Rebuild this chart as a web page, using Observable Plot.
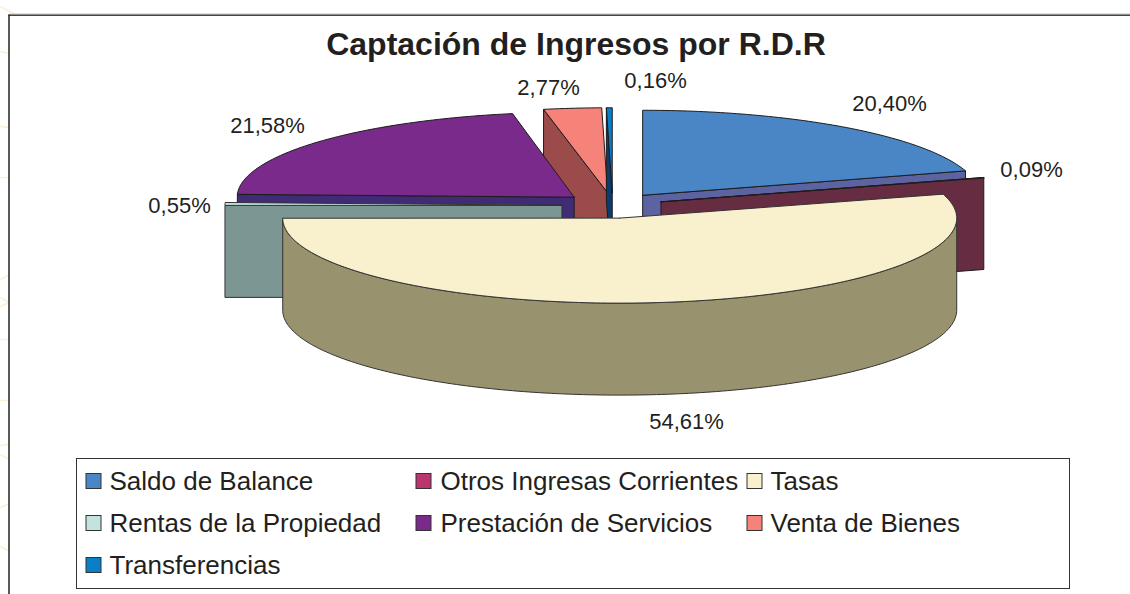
<!DOCTYPE html>
<html><head><meta charset="utf-8">
<script src="https://cdn.jsdelivr.net/npm/d3@7"></script>
<script src="https://cdn.jsdelivr.net/npm/@observablehq/plot@0.6"></script>
<style>html,body{margin:0;padding:0;background:#fff}svg{display:block}</style>
</head><body><div id="chart"></div>
<script>
const categories = ["Saldo de Balance","Otros Ingresas Corrientes","Tasas","Rentas de la Propiedad","Prestación de Servicios","Venta de Bienes","Transferencias"];
const shares = [20.40,0.09,54.61,0.55,21.58,2.77,0.16];
const shareLabels = ["20,40%","0,09%","54,61%","0,55%","21,58%","2,77%","0,16%"];
const topColors = ["#4a86c5","#b9366f","#f9f1cd","#c5e3de","#7a2a8a","#f6837a","#0a7fc6"];
const sideColors = ["#5d63a0","#662c42","#98926f","#7b9693","#402c74","#9c4b4b","#0c3b6e"];

const W = 1130, H = 594, cx = 612, cy = 205, rx = 337, ry = 85, depth = 92 / ry, explode = 0.15;
const X = p => (p - cx) / rx, Y = p => (cy - p) / ry;
const total = d3.sum(shares);
let acc = 0;
const slices = shares.map((v, i) => {
  const a0 = acc / total * 2 * Math.PI; acc += v;
  const a1 = acc / total * 2 * Math.PI, m = (a0 + a1) / 2;
  return {i, a0, a1, ox: explode * Math.sin(m), oy: explode * Math.cos(m)};
});
const [blue, maroon, cream, teal, purple, salmon, transfer] = slices;
// the thinnest visible wedge is drawn at least one degree wide, pushing its neighbour back
const minSweep = Math.PI / 180;
const shift = minSweep - (transfer.a1 - transfer.a0);
transfer.a0 -= shift; salmon.a0 -= shift; salmon.a1 -= shift;

const pt = (s, a, dz = 0) => [s.ox + Math.sin(a), s.oy + Math.cos(a) - dz];
const arc = (s, a0, a1, dz = 0) => {
  const n = Math.max(2, Math.ceil(Math.abs(a1 - a0) * 60));
  return d3.range(n + 1).map(k => pt(s, a0 + (a1 - a0) * k / n, dz));
};
const apex = (s, dz = 0) => [s.ox, s.oy - dz];
const ring = p => [...p, p[0]];
const topFace = s => ring([apex(s), ...arc(s, s.a0, s.a1)]);
const wedgeSide = (s, a) => ring([apex(s), pt(s, a), pt(s, a, depth), apex(s, depth)]);
// only the front half of the rim (3 o'clock round to 9 o'clock) can be seen
const rimSide = s => {
  const a0 = Math.max(s.a0, Math.PI / 2), a1 = Math.min(s.a1, 3 * Math.PI / 2);
  return ring([...arc(s, a0, a1), ...arc(s, a1, a0, depth)]);
};

const polygon = (pts, fill, stroke = "#1c1c1c", strokeWidth = 1) =>
  Plot.line(pts, {x: d => d[0], y: d => d[1], fill, stroke, strokeWidth, curve: "linear", strokeLinejoin: "round"});

const marks = [];
const sideOf = s => sideColors[s.i], topOf = s => topColors[s.i];

// pale page decoration left of the frame
const paleTicks = [[0,6,15,14],[0,51,9,53],[0,126,9,127],[0,177,9,177],[0,279,9,274],[0,297,9,302],[0,306,9,302],[0,339,9,339],[0,400,9,400],[0,445,9,444],[0,454,9,459],[0,507,9,503],[0,546,9,551]];
marks.push(Plot.link(paleTicks, {x1: d => X(d[0]), y1: d => Y(d[1]), x2: d => X(d[2]), y2: d => Y(d[3]), stroke: "#fdeed6", strokeWidth: 1.5}));

// back-to-front
marks.push(polygon(wedgeSide(blue, blue.a1), sideOf(blue)), polygon(topFace(blue), topOf(blue)));
marks.push(polygon(wedgeSide(salmon, salmon.a0), sideOf(salmon)), polygon(topFace(salmon), topOf(salmon)));
marks.push(polygon(wedgeSide(transfer, transfer.a0), sideOf(transfer)), polygon(topFace(transfer), topOf(transfer)));
marks.push(polygon(wedgeSide(purple, purple.a0), sideOf(purple)), polygon(topFace(purple), topOf(purple)));
marks.push(polygon(wedgeSide(teal, teal.a0), sideOf(teal), "#333"), polygon(topFace(teal), topOf(teal), "#333"));
marks.push(polygon(wedgeSide(maroon, maroon.a0), sideOf(maroon)), polygon(topFace(maroon), topOf(maroon)));
marks.push(polygon(rimSide(cream), sideOf(cream), "#333"), polygon(topFace(cream), topOf(cream), "#333"));

// frame
marks.push(Plot.link([0], {x1: () => X(9), x2: () => X(W), y1: () => Y(13.5), y2: () => Y(13.5), stroke: "#c4c4c4", strokeWidth: 1}));
marks.push(Plot.link([0], {x1: () => X(8), x2: () => X(W), y1: () => Y(14.7), y2: () => Y(14.7), stroke: "#444", strokeWidth: 1.5}));
marks.push(Plot.link([0], {x1: () => X(8.5), x2: () => X(8.5), y1: () => Y(14), y2: () => Y(H), stroke: "#222", strokeWidth: 1.5}));

// title and data labels
const font = "Liberation Sans, Arial, sans-serif";
marks.push(Plot.text(["Captación de Ingresos por R.D.R"], {x: () => X(575.5), y: () => Y(44), text: d => d, fontSize: 32, fontWeight: "bold", fill: "#231f20", fontFamily: font}));
const labelPx = [[889,103],[1031,169],[686,421],[179,205],[267,125],[548,87],[655,80]];
marks.push(Plot.text(shareLabels, {x: (d, i) => X(labelPx[i][0]), y: (d, i) => Y(labelPx[i][1]), text: d => d, fontSize: 22, fill: "#231f20", fontFamily: font}));

// legend
const lx = [86, 416, 747], tx = [109, 440, 770], ly = [481, 523, 565];
const legendPos = categories.map((c, i) => ({c, i, col: i % 3, row: Math.floor(i / 3)}));
marks.push(Plot.rect([0], {x1: () => X(76.5), x2: () => X(1069.5), y1: () => Y(458.5), y2: () => Y(588.5), fill: "#fff", stroke: "#333", strokeWidth: 1}));
marks.push(Plot.rect(legendPos, {x1: d => X(lx[d.col]), x2: d => X(lx[d.col] + 15), y1: d => Y(ly[d.row] - 7.5), y2: d => Y(ly[d.row] + 7.5), fill: d => topColors[d.i], stroke: "#333", strokeWidth: 1}));
marks.push(Plot.text(legendPos, {x: d => X(tx[d.col]), y: d => Y(ly[d.row]), text: "c", textAnchor: "start", fontSize: 26, fill: "#231f20", fontFamily: font}));

const chart = Plot.plot({
  width: W, height: H, margin: 0,
  x: {domain: [X(0), X(W)], range: [0, W], axis: null},
  y: {domain: [Y(0), Y(H)], range: [0, H], axis: null},
  color: {type: "identity"},
  marks
});
document.getElementById("chart").append(chart);
</script></body></html>
